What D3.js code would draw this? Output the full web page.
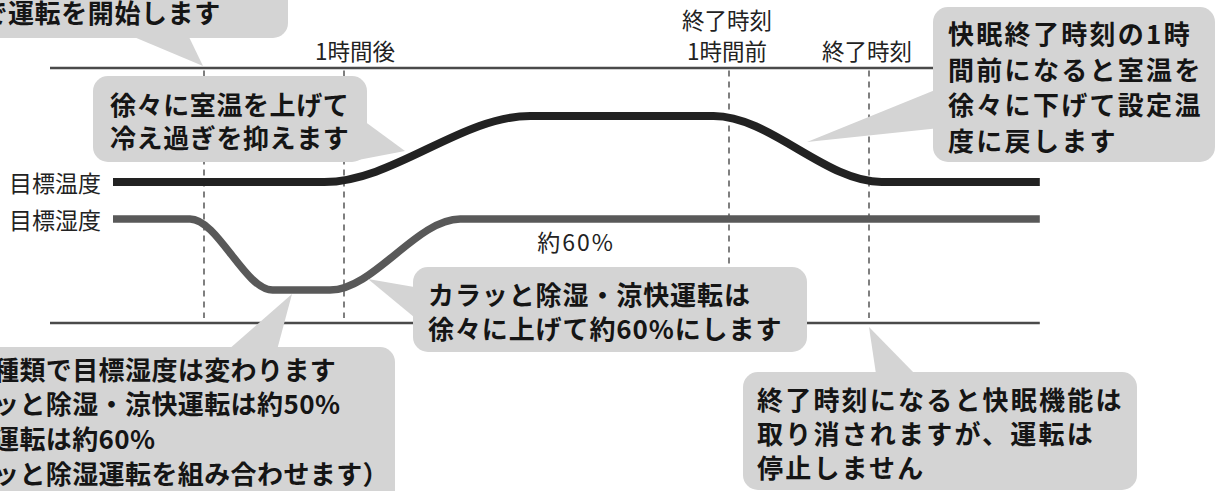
<!DOCTYPE html>
<html><head><meta charset="utf-8">
<script src="https://cdn.jsdelivr.net/npm/d3@7"></script>
<style>
html,body{margin:0;padding:0;background:#fff;overflow:hidden;}
svg{display:block;}
</style></head>
<body>
<svg id="chart" width="1216" height="491"></svg>
<script>
// ---- data ----
// time axis in hours from the start of operation
const tickTimes = [0, 1, 3.75, 4.75];
const tickLabels = [[""], ["1時間後"], ["終了時刻", "1時間前"], ["終了時刻"]];
const tickLabelDx = [0, 11, -2, -2];
// series: target temperature and target humidity (relative level, 0 = bottom axis, 100 = top axis)
const seriesNames = ["目標温度", "目標湿度"];
const tempTimes = [-0.65, 0.86, 2.33, 3.64, 4.84, 5.97];
const tempLevels = [55.3, 55.3, 81.2, 81.2, 55.3, 55.3];
const humTimes = [-0.65, -0.1, 0.49, 0.9, 1.83, 5.97];
const humLevels = [40.8, 40.8, 12.9, 12.9, 40.8, 40.8];
const humNote = "約60%";
const axisTimes = [-1.1, 5.97];

const svg = d3.select("#chart");
const x = d3.scaleLinear().domain([0, 1]).range([204, 344]);
const y = d3.scaleLinear().domain([0, 100]).range([323, 68]);

const FONT = "'Noto Sans CJK JP','Noto Sans',sans-serif";

// axis lines (top & bottom)
[100, 0].forEach(lv => {
  svg.append("line")
    .attr("x1", x(axisTimes[0])).attr("x2", x(axisTimes[1]))
    .attr("y1", y(lv)).attr("y2", y(lv))
    .attr("stroke", "#4a4a4a").attr("stroke-width", 2.5);
});

// dashed verticals
svg.selectAll("line.v").data(tickTimes).enter().append("line")
  .attr("x1", d => x(d)).attr("x2", d => x(d))
  .attr("y1", y(99)).attr("y2", y(2))
  .attr("stroke", "#555").attr("stroke-width", 1.5)
  .attr("stroke-dasharray", "6,5");

// tick labels (multi-line labels as one text element with tspans)
tickLabels.forEach((lines, i) => {
  const n = lines.length;
  const t = svg.append("text")
    .attr("text-anchor", "middle")
    .attr("dominant-baseline", "central")
    .attr("font-family", FONT).attr("font-size", 22.5).attr("font-weight", 400)
    .attr("fill", "#222");
  lines.forEach((s, j) => {
    t.append("tspan")
      .attr("x", x(tickTimes[i]) + tickLabelDx[i])
      .attr("y", y(100) - 18 - (n - 1 - j) * 31.5)
      .text(s);
  });
});

// series lines
const line = d3.line().x(d => x(d[0])).y(d => y(d[1])).curve(d3.curveMonotoneX);
const tempData = d3.zip(tempTimes, tempLevels);
const humData = d3.zip(humTimes, humLevels);
svg.append("path").attr("d", line(humData)).attr("fill", "none")
  .attr("stroke", "#595959").attr("stroke-width", 7.5);
svg.append("path").attr("d", line(tempData)).attr("fill", "none")
  .attr("stroke", "#222").attr("stroke-width", 8);

// series labels
[[seriesNames[0], tempLevels[0]], [seriesNames[1], humLevels[0]]].forEach(([name, lv]) => {
  svg.append("text").attr("x", 9).attr("y", y(lv))
    .attr("dominant-baseline", "central")
    .attr("font-family", FONT).attr("font-size", 23).attr("fill", "#222").text(name);
});
// humidity note
svg.append("text").attr("x", 576).attr("y", 240.5)
  .attr("text-anchor", "middle").attr("dominant-baseline", "central")
  .attr("letter-spacing", 2)
  .attr("font-family", FONT).attr("font-size", 23).attr("fill", "#222").text(humNote);

// callouts
const callouts = [
  {rect: [-40, -60, 328, 98], tail: [[134, 37], [203, 66], [189, 37]],
   lines: ["で運転を開始します"], tx: -18.6, ty: 11.5, dy: 33.4, ls: 0.6},
  {rect: [93, 76, 274, 86], tail: [[360, 118], [405, 151], [358, 160]],
   lines: ["徐々に室温を上げて", "冷え過ぎを抑えます"], tx: 110, ty: 103.5, dy: 33.4, ls: 0.6},
  {rect: [933, 7, 282, 155], tail: [[807, 142], [940, 88], [940, 128]],
   lines: ["快眠終了時刻の1時", "間前になると室温を", "徐々に下げて設定温", "度に戻します"], tx: 948, ty: 32.5, dy: 35.5, ls: 2.3},
  {rect: [413, 267, 394, 85], tail: [[368, 279], [420, 288], [420, 322]],
   lines: ["カラッと除湿・涼快運転は", "徐々に上げて約60%にします"], tx: 428, ty: 293, dy: 34.5, ls: 0.9},
  {rect: [-40, 347, 435, 200], tail: [[228, 350], [292, 294], [277, 350]],
   lines: ["種類で目標湿度は変わります", "ッと除湿・涼快運転は約50%", "運転は約60%", "ッと除湿運転を組み合わせます）"], tx: -7, ty: 368, dy: 34.7, ls: 0.4},
  {rect: [743, 372, 394, 118], tail: [[876, 374], [869, 327], [915, 374]],
   lines: ["終了時刻になると快眠機能は", "取り消されますが、運転は", "停止しません"], tx: 757, ty: 398.5, dy: 34, ls: 2.2}
];
const cg = svg.append("g");
callouts.forEach(c => {
  const g = cg.append("g");
  g.append("polygon").attr("points", c.tail.map(p => p.join(",")).join(" ")).attr("fill", "#d4d4d4");
  g.append("rect").attr("x", c.rect[0]).attr("y", c.rect[1]).attr("width", c.rect[2]).attr("height", c.rect[3])
    .attr("rx", 15).attr("fill", "#d4d4d4");
  c.lines.forEach((t, j) => {
    g.append("text").attr("x", c.tx).attr("y", c.ty + j * c.dy)
      .attr("dominant-baseline", "central")
      .attr("letter-spacing", c.ls)
      .attr("font-family", FONT).attr("font-size", 26).attr("font-weight", 700)
      .attr("fill", "#151515").text(t);
  });
});
</script>
</body></html>
